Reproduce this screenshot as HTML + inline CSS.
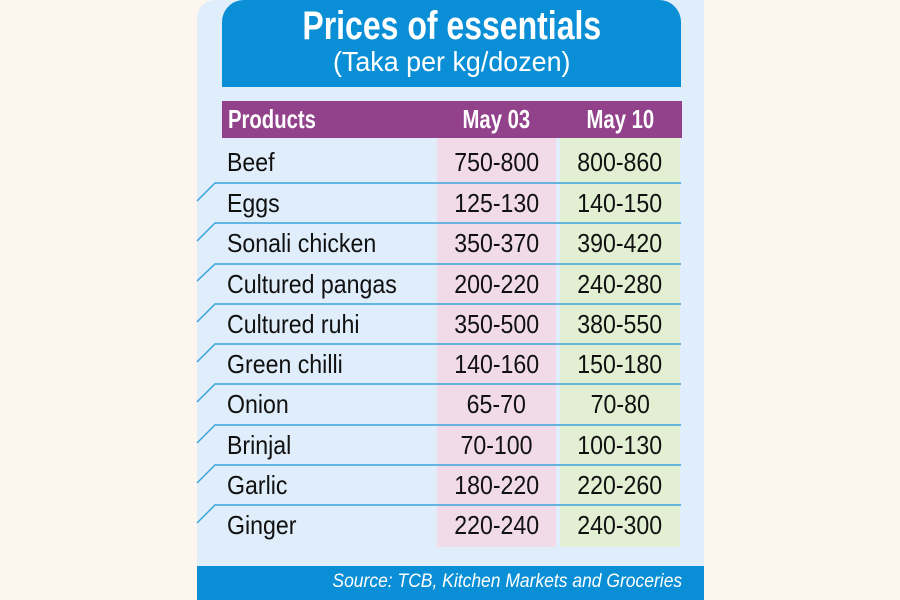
<!DOCTYPE html><html><head><style>
body{margin:0;width:900px;height:600px;background:#fdf6ee;position:relative;overflow:hidden;font-family:"Liberation Sans",sans-serif}
div{position:absolute;box-sizing:border-box}
span.s{display:inline-block;white-space:nowrap}
.panel{left:197px;top:0;width:507px;height:600px;background:#dfeefa;border-top-left-radius:18px}
.hdr{left:222px;top:0;width:459px;height:87px;background:#0a8fd6;border-radius:22px 22px 0 0;color:#fff;text-align:center}
.t1{left:0;right:0;top:4px;font-size:40px;font-weight:bold;line-height:44px}
.t1 span{transform:scaleX(.8)}
.t2{left:0;right:0;top:46px;font-size:28px;line-height:32px}
.t2 span{transform:scaleX(.96)}
.ph{left:222px;top:101px;width:460px;height:37px;background:#92418b;color:#fff;font-weight:bold;font-size:26px;line-height:37px}
.ph div{top:0}
.ph span{transform:scaleX(.78)}
.pink{left:437px;top:138px;width:119px;height:409px;background:#f2dbe8}
.green{left:560px;top:138px;width:120px;height:409px;background:#e2efd2}
.row{left:227px;width:460px;height:40px;font-size:26px;line-height:40px;color:#111}
.row span{transform:scaleX(.89);transform-origin:left center}
.row div span{transform-origin:center}
.c2{left:210px;top:0;width:119px;text-align:center}
.c3{left:333px;top:0;width:120px;text-align:center}
.foot{left:197px;top:566px;width:507px;height:34px;background:#0a8fd6;color:#fff;font-style:italic;font-size:19px;line-height:32px;text-align:right;padding-right:22px}
.foot span{transform:scaleX(.92);transform-origin:right center}
</style></head><body>
<div class="panel"></div>
<div class="hdr"><div class="t1"><span class="s">Prices of essentials</span></div><div class="t2"><span class="s">(Taka per kg/dozen)</span></div></div>
<div class="ph"><div style="left:6px"><span class="s" style="transform-origin:left center">Products</span></div><div style="left:215px;width:119px;text-align:center"><span class="s">May 03</span></div><div style="left:338px;width:120px;text-align:center"><span class="s">May 10</span></div></div>
<div class="pink"></div><div class="green"></div>
<svg width="900" height="600" style="position:absolute;left:0;top:0">
<g stroke="#3aa4dc" stroke-width="1.5" fill="none">
<path d="M197 201 L215 183 H681"/><path d="M197 241 L215 223 H681"/><path d="M197 281 L215 264 H681"/><path d="M197 322 L215 304 H681"/><path d="M197 362 L215 344 H681"/><path d="M197 402 L215 384 H681"/><path d="M197 443 L215 425 H681"/><path d="M197 483 L215 465 H681"/><path d="M197 523 L215 505 H681"/>
</g></svg>
<div class="row" style="top:142px"><span class="s">Beef</span><div class="c2"><span class="s">750-800</span></div><div class="c3"><span class="s">800-860</span></div></div>
<div class="row" style="top:183px"><span class="s">Eggs</span><div class="c2"><span class="s">125-130</span></div><div class="c3"><span class="s">140-150</span></div></div>
<div class="row" style="top:223px"><span class="s">Sonali chicken</span><div class="c2"><span class="s">350-370</span></div><div class="c3"><span class="s">390-420</span></div></div>
<div class="row" style="top:264px"><span class="s">Cultured pangas</span><div class="c2"><span class="s">200-220</span></div><div class="c3"><span class="s">240-280</span></div></div>
<div class="row" style="top:304px"><span class="s">Cultured ruhi</span><div class="c2"><span class="s">350-500</span></div><div class="c3"><span class="s">380-550</span></div></div>
<div class="row" style="top:344px"><span class="s">Green chilli</span><div class="c2"><span class="s">140-160</span></div><div class="c3"><span class="s">150-180</span></div></div>
<div class="row" style="top:384px"><span class="s">Onion</span><div class="c2"><span class="s">65-70</span></div><div class="c3"><span class="s">70-80</span></div></div>
<div class="row" style="top:425px"><span class="s">Brinjal</span><div class="c2"><span class="s">70-100</span></div><div class="c3"><span class="s">100-130</span></div></div>
<div class="row" style="top:465px"><span class="s">Garlic</span><div class="c2"><span class="s">180-220</span></div><div class="c3"><span class="s">220-260</span></div></div>
<div class="row" style="top:505px"><span class="s">Ginger</span><div class="c2"><span class="s">220-240</span></div><div class="c3"><span class="s">240-300</span></div></div>
<div class="foot"><span class="s">Source: TCB, Kitchen Markets and Groceries</span></div>
</body></html>
